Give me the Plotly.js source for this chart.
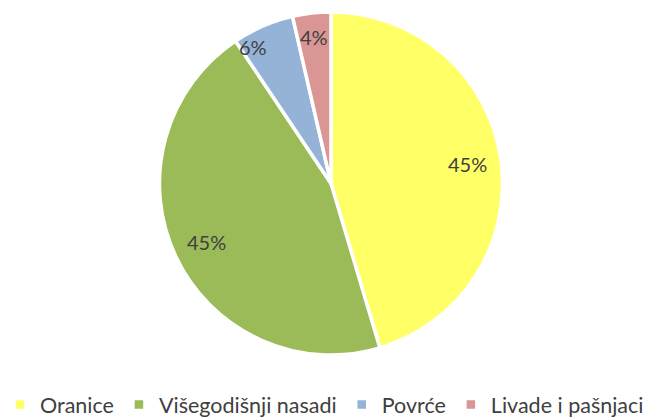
<!DOCTYPE html>
<html><head><meta charset="utf-8">
<script src="https://cdn.plot.ly/plotly-3.0.1.min.js"></script>
<style>html,body{margin:0;padding:0;background:#fff}#c{width:665px;height:418px}</style>
</head><body><div id="c"></div>
<script>
const categories = ["Oranice", "Višegodišnji nasadi", "Povrće", "Livade i pašnjaci"];
const values = [45.4, 45.2, 5.8, 3.6];
const textLabels = ["45%", "45%", "6%", "4%"];
const colors = ["#FFFF66", "#9BBB59", "#95B3D7", "#D99694"];

// label placement style (radial fraction and small nudges in px)
const labelRadius = [0.8, 0.8, 0.88, 0.86];
const labelNudgeX = [0, 0, -18, 0];
const labelNudgeY = [0, 0, -2, 0];

const W = 665, H = 418;
const domX = [0.2391, 0.7564];
const domY = [0.0755, 0.9688];

const trace = {
  type: "pie",
  labels: categories,
  values: values,
  textinfo: "none",
  sort: false,
  direction: "clockwise",
  rotation: 0,
  marker: {colors: colors, line: {color: "#FFFFFF", width: 3.5}},
  domain: {x: domX, y: domY},
  hoverinfo: "label+percent"
};

// label annotations placed at slice mid-angles computed from the values
const total = values.reduce((a, b) => a + b, 0);
const annotations = [];
let cum = 0;
values.forEach((v, i) => {
  const mid = (cum + v / 2) / total * 2 * Math.PI;
  cum += v;
  const cx = (domX[0] + domX[1]) / 2, cy = (domY[0] + domY[1]) / 2;
  const rx = (domX[1] - domX[0]) / 2, ry = (domY[1] - domY[0]) / 2;
  annotations.push({
    xref: "paper", yref: "paper",
    x: cx + labelRadius[i] * rx * Math.sin(mid),
    y: cy + labelRadius[i] * ry * Math.cos(mid),
    xanchor: "center", yanchor: "middle",
    text: textLabels[i], showarrow: false,
    xshift: labelNudgeX[i], yshift: labelNudgeY[i],
    font: {family: "Lato, 'Open Sans', sans-serif", size: 20, color: "#404040"}
  });
});

const layout = {
  width: W, height: H,
  margin: {l: 0, r: 0, t: 0, b: 0},
  paper_bgcolor: "#fff",
  showlegend: true,
  legend: {orientation: "h", xref: "container", x: 0, xanchor: "left",
    yref: "container", y: 0.0812, yanchor: "top",
    font: {family: "Lato, 'Open Sans', sans-serif", size: 21.5, color: "#404040"},
    traceorder: "normal", itemwidth: 30},
  annotations: annotations,
  font: {family: "Lato, sans-serif"}
};
Plotly.newPlot("c", [trace], layout, {displayModeBar: false, staticPlot: true});
</script></body></html>
